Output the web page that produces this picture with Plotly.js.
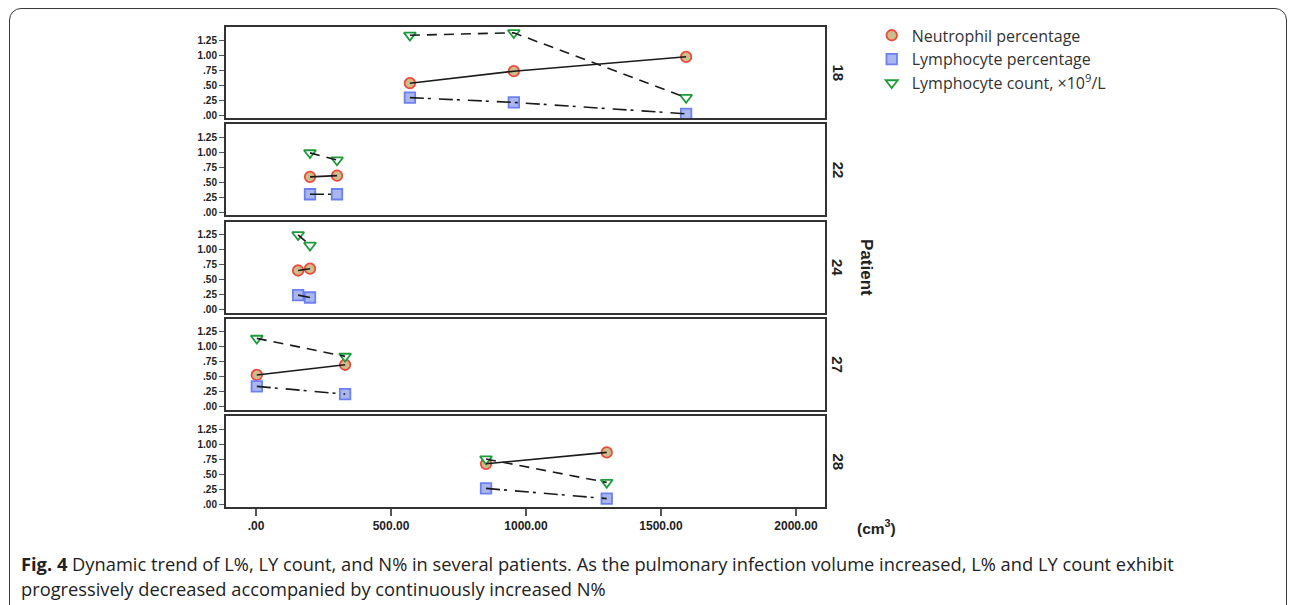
<!DOCTYPE html>
<html>
<head>
<meta charset="utf-8">
<script src="https://cdn.plot.ly/plotly-3.0.1.min.js"></script>
<style>
  html, body { margin: 0; padding: 0; background: #fff; }
  #wrap { position: relative; width: 1292px; height: 605px; overflow: hidden; }
  #chart { width: 1292px; height: 605px; }
  #frame { position: absolute; left: 9px; top: 8px; width: 1278px; height: 640px;
           border: 1.5px solid #3a3a3a; border-radius: 12px; pointer-events: none; box-sizing: border-box; }
</style>
</head>
<body>
<div id="wrap">
  <div id="chart"></div>
  <div id="frame"></div>
</div>
<script>
// ---- Data ----
const patients = ['18', '22', '24', '27', '28'];
const seriesNames = ['Neutrophil percentage', 'Lymphocyte percentage', 'Lymphocyte count, \u00d710<sup>9</sup>/L'];

// infection volume (cm3) per patient
const volume18 = [570, 955, 1593];
const volume22 = [200, 300];
const volume24 = [156, 200];
const volume27 = [3, 330];
const volume28 = [852, 1299];

// Neutrophil percentage
const neut18 = [0.53, 0.73, 0.97];
const neut22 = [0.59, 0.61];
const neut24 = [0.65, 0.68];
const neut27 = [0.53, 0.70];
const neut28 = [0.67, 0.86];

// Lymphocyte percentage
const lymPct18 = [0.29, 0.21, 0.02];
const lymPct22 = [0.30, 0.30];
const lymPct24 = [0.24, 0.20];
const lymPct27 = [0.34, 0.21];
const lymPct28 = [0.26, 0.09];

// Lymphocyte count, x10^9/L
const lymCnt18 = [1.33, 1.37, 0.29];
const lymCnt22 = [0.99, 0.87];
const lymCnt24 = [1.245, 1.07];
const lymCnt27 = [1.14, 0.84];
const lymCnt28 = [0.75, 0.36];

const xTickVals = [0, 500, 1000, 1500, 2000];
const xTickText = ['.00', '500.00', '1000.00', '1500.00', '2000.00'];
const yTickVals = [0, 0.25, 0.5, 0.75, 1.0, 1.25];
const yTickText = ['.00', '.25', '.50', '.75', '1.00', '1.25'];

// ---- Build ----
const volumes = [volume18, volume22, volume24, volume27, volume28];
const neuts = [neut18, neut22, neut24, neut27, neut28];
const lymPcts = [lymPct18, lymPct22, lymPct24, lymPct27, lymPct28];
const lymCnts = [lymCnt18, lymCnt22, lymCnt24, lymCnt27, lymCnt28];

const markerStyles = [
  {symbol: 'circle', size: 10.5, color: '#cbbd8c', line: {color: '#ee4a3c', width: 1.8}},
  {symbol: 'square', size: 10.5, color: '#a9b7ee', line: {color: '#6c80f2', width: 1.8}},
  {symbol: 'triangle-down', size: 10.5, color: '#ffffff', line: {color: '#1f9a3c', width: 1.8}}
];
const lineDashes = ['solid', '14px,4px,3px,8px', '10px,7px'];

const data = [];
const mT = 27, mB = 98;
const layout = {
  width: 1292, height: 605,
  margin: {l: 226, r: 467, t: mT, b: mB},
  paper_bgcolor: '#ffffff', plot_bgcolor: '#ffffff',
  font: {family: 'Liberation Sans, Arial, sans-serif', color: '#222'},
  showlegend: true,
  legend: {x: 1.078, y: 1.018, xanchor: 'left', yanchor: 'top',
           font: {family: 'Open Sans, sans-serif', size: 16, color: '#333'},
           bgcolor: 'rgba(0,0,0,0)', tracegroupgap: 0},
  annotations: [],
  shapes: []
};

const plotH = 605 - mT - mB;
const panelH = 91;
const gap = (plotH - 5 * panelH) / 4;

patients.forEach((p, i) => {
  const n = i === 0 ? '' : String(i + 1);
  const xa = 'x' + n, ya = 'y' + n;
  const topPx = i * (panelH + gap);
  const domain = [1 - (topPx + panelH) / plotH, 1 - topPx / plotH];
  const last = i === patients.length - 1;

  layout['xaxis' + n] = {
    anchor: ya, range: [-111.1, 2107.4], showgrid: false, zeroline: false,
    showline: true, mirror: true, linecolor: '#333', linewidth: 2,
    tickvals: xTickVals, ticktext: xTickText,
    ticks: last ? 'outside' : '', ticklen: 7, tickwidth: 1.5, tickcolor: '#555',
    showticklabels: last,
    tickfont: {family: 'Liberation Sans, Arial, sans-serif', size: 12, weight: 'bold', color: '#222'}
  };
  layout['yaxis' + n] = {
    anchor: xa, domain: domain, range: [-0.05, 1.467], showgrid: false, zeroline: false,
    showline: true, mirror: true, linecolor: '#333', linewidth: 2,
    tickvals: yTickVals, ticktext: yTickText,
    ticks: 'outside', ticklen: 5, tickwidth: 1.2, tickcolor: '#555',
    tickfont: {family: 'Liberation Sans, Arial, sans-serif', size: 10, weight: 'bold', color: '#222'}
  };

  const ys = [neuts[i], lymPcts[i], lymCnts[i]];
  // markers
  ys.forEach((yv, s) => {
    data.push({
      type: 'scatter', mode: 'markers', x: volumes[i], y: yv, xaxis: xa, yaxis: ya,
      name: seriesNames[s], legendgroup: 's' + s, showlegend: i === 0,
      marker: markerStyles[s], hoverinfo: 'x+y'
    });
  });
  // lines on top of markers
  ys.forEach((yv, s) => {
    data.push({
      type: 'scatter', mode: 'lines', x: volumes[i], y: yv, xaxis: xa, yaxis: ya,
      legendgroup: 's' + s, showlegend: false,
      line: {color: '#1a1a1a', width: 1.6, dash: lineDashes[s]}, hoverinfo: 'skip'
    });
  });

  // patient strip label
  layout.annotations.push({
    xref: 'paper', yref: 'paper', x: 1, y: (domain[0] + domain[1]) / 2,
    xanchor: 'center', yanchor: 'middle', xshift: 13, showarrow: false,
    text: p, textangle: 90,
    font: {family: 'Liberation Sans, Arial, sans-serif', size: 15, weight: 'bold', color: '#222'}
  });
});

// Patient title
layout.annotations.push({
  xref: 'paper', yref: 'paper', x: 1, y: 0.5, xanchor: 'center', yanchor: 'middle',
  xshift: 42, showarrow: false, text: 'Patient', textangle: 90,
  font: {family: 'Liberation Sans, Arial, sans-serif', size: 17, weight: 'bold', color: '#222'}
});
// x unit
layout.annotations.push({
  xref: 'paper', yref: 'paper', x: 1, y: 0, xanchor: 'left', yanchor: 'middle',
  xshift: 30, yshift: -20, showarrow: false, text: '(cm<sup>3</sup>)',
  font: {family: 'Liberation Sans, Arial, sans-serif', size: 15.5, weight: 'bold', color: '#222'}
});
// caption
layout.annotations.push({
  xref: 'paper', yref: 'paper', x: 0, y: 0, xanchor: 'left', yanchor: 'middle', align: 'left',
  xshift: -207, yshift: -56, showarrow: false,
  text: '<b>Fig. 4</b> Dynamic trend of L%, LY count, and N% in several patients. As the pulmonary infection volume increased, L% and LY count exhibit',
  font: {family: 'Open Sans, sans-serif', size: 18.3, color: '#222'}
});
layout.annotations.push({
  xref: 'paper', yref: 'paper', x: 0, y: 0, xanchor: 'left', yanchor: 'middle', align: 'left',
  xshift: -207, yshift: -81, showarrow: false,
  text: 'progressively decreased accompanied by continuously increased N%',
  font: {family: 'Open Sans, sans-serif', size: 18.3, color: '#222'}
});

Plotly.newPlot('chart', data, layout, {displayModeBar: false});
</script>
</body>
</html>
